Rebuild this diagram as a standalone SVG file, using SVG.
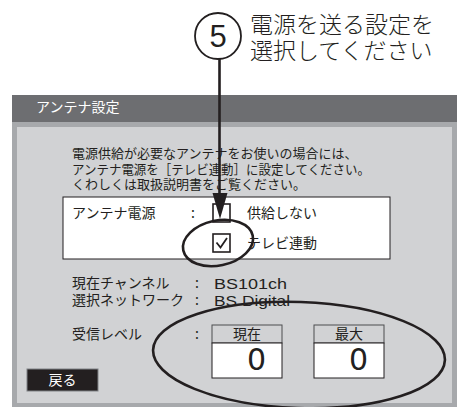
<svg xmlns="http://www.w3.org/2000/svg" width="462" height="407" viewBox="0 0 462 407">
<style>
.jp{font-family:"Noto Sans CJK JP","Noto Sans",sans-serif;fill:#231f20}
.lat{font-family:"Liberation Sans","DejaVu Sans",sans-serif;fill:#231f20}
.t14{font-size:14px}
.t13{font-size:13px}
.box{fill:#fff;stroke:#231f20;stroke-width:1}
.hdr{fill:#d1d2d4;stroke:#4d4d4f;stroke-width:1}
.ink{fill:none;stroke:#231f20;stroke-width:2.6}
</style>
<rect width="462" height="407" fill="#fff"/>
<g id="window">
<rect x="12" y="95" width="445" height="312" fill="#a7a9ac"/>
<rect x="12" y="95" width="445" height="27" fill="#6d6e71"/>
<rect x="17" y="127" width="435" height="276" fill="#d1d2d4"/>
<text x="36" y="112" class="jp t14" style="fill:#fff">アンテナ設定</text>
</g>
<g id="description">
<text x="72" y="158" class="jp t13">電源供給が必要なアンテナをお使いの場合には、</text>
<text x="72" y="174" class="jp t13" textLength="298" lengthAdjust="spacingAndGlyphs">アンテナ電源を［テレビ連動］に設定してください。</text>
<text x="72" y="189" class="jp t13">くわしくは取扱説明書をご覧ください。</text>
</g>
<g id="power-box">
<rect x="63" y="197" width="327" height="62" class="box"/>
<text x="72" y="218" class="jp t14">アンテナ電源</text>
<text x="191" y="218" class="jp t14">:</text>
<rect x="213" y="204" width="17" height="18" fill="none" stroke="#231f20" stroke-width="1.6"/>
<text x="247" y="218" class="jp t14">供給しない</text>
<rect x="213" y="234" width="17" height="18" fill="#fff" stroke="#231f20" stroke-width="1.6"/>
<path d="M216.5,242.5 L220.5,247.5 L227,238" fill="none" stroke="#231f20" stroke-width="1.8"/>
<text x="247" y="248" class="jp t14">テレビ連動</text>
</g>
<g id="info">
<text x="72" y="288" class="jp t14">現在チャンネル</text>
<text x="195" y="288" class="jp t14">:</text>
<text x="214" y="289" class="lat" font-size="15" textLength="73" lengthAdjust="spacingAndGlyphs">BS101ch</text>
<text x="72" y="305" class="jp t14">選択ネットワーク</text>
<text x="195" y="305" class="jp t14">:</text>
<text x="214" y="306" class="lat" font-size="15" textLength="76" lengthAdjust="spacingAndGlyphs">BS Digital</text>
<text x="72" y="339" class="jp t14">受信レベル</text>
<text x="195" y="339" class="jp t14">:</text>
</g>
<g id="level-current">
<rect x="212" y="325" width="70" height="18" class="hdr"/>
<rect x="212" y="343" width="70" height="35" class="box"/>
<text x="247" y="339" class="jp t14" text-anchor="middle">現在</text>
<text x="266" y="370" class="lat" font-size="30" text-anchor="end" style="font-family:'DejaVu Sans',sans-serif">0</text>
</g>
<g id="level-max">
<rect x="314" y="325" width="70" height="18" class="hdr"/>
<rect x="314" y="343" width="70" height="35" class="box"/>
<text x="349" y="339" class="jp t14" text-anchor="middle">最大</text>
<text x="368" y="370" class="lat" font-size="30" text-anchor="end" style="font-family:'DejaVu Sans',sans-serif">0</text>
</g>
<g id="back-button">
<rect x="27" y="369" width="71" height="22" fill="#231f20" stroke="#808285" stroke-width="1"/>
<text x="62.5" y="385" class="jp t14" text-anchor="middle" style="fill:#fff">戻る</text>
</g>
<g id="callout">
<circle cx="218" cy="36" r="23" fill="#fff" stroke="#231f20" stroke-width="1.8"/>
<text x="218" y="47" class="lat" font-size="31" text-anchor="middle">5</text>
<text x="250" y="33" class="jp" font-size="23" font-weight="300">電源を送る設定を</text>
<text x="250" y="59" class="jp" font-size="23" font-weight="300">選択してください</text>
</g>
<g id="connectors">
<line x1="219.5" y1="59" x2="219.5" y2="196" stroke="#231f20" stroke-width="2.6"/>
<polygon points="212.5,193 227.5,193 220,219" fill="#231f20"/>
<ellipse cx="218" cy="243" rx="35.5" ry="22.5" transform="rotate(-12 218 243)" class="ink"/>
<ellipse cx="299" cy="355" rx="146" ry="53" transform="rotate(2 299 355)" class="ink"/>
</g>
</svg>
